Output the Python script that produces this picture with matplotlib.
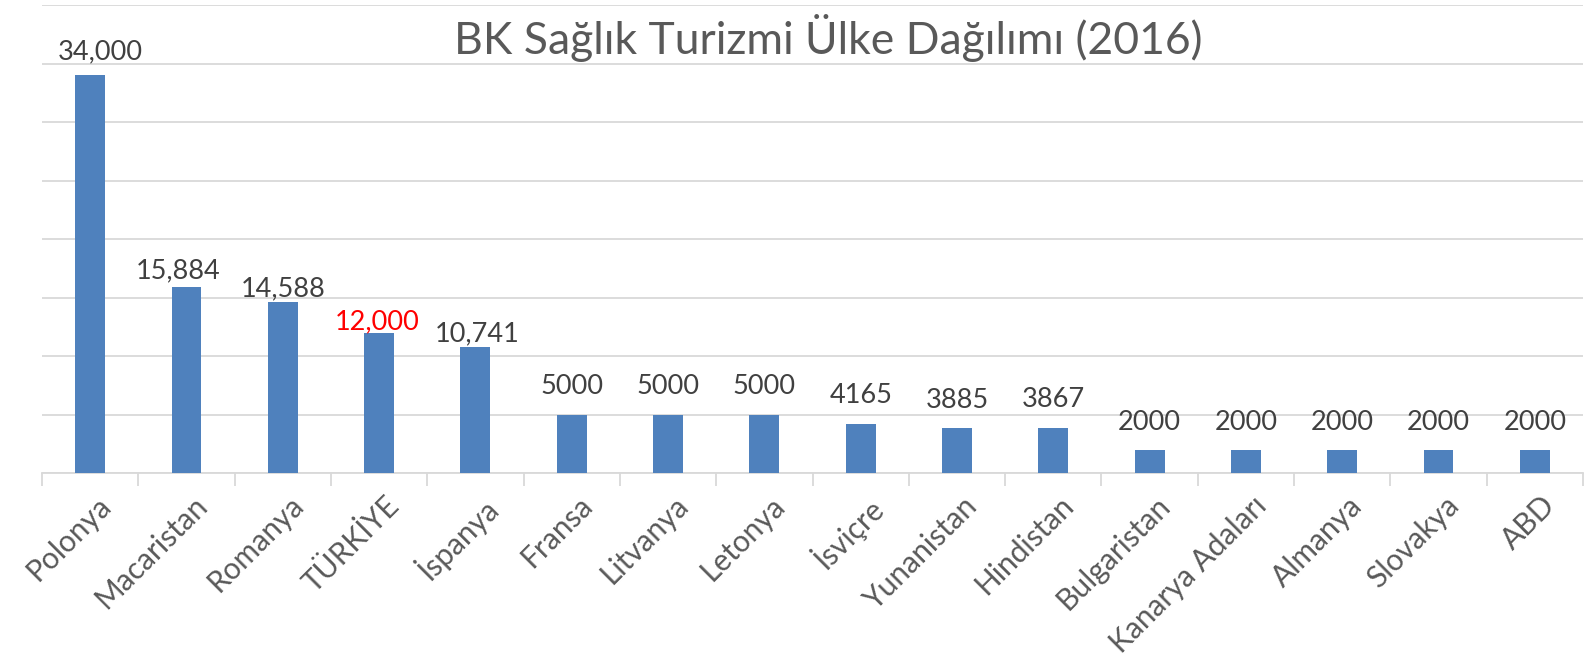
import matplotlib.pyplot as plt
from matplotlib.transforms import ScaledTranslation

plt.rcParams['font.family'] = ['Lato', 'DejaVu Sans']

ulkeler = ['Polonya', 'Macaristan', 'Romanya', 'TÜRKİYE', 'İspanya', 'Fransa',
           'Litvanya', 'Letonya', 'İsviçre', 'Yunanistan', 'Hindistan',
           'Bulgaristan', 'Kanarya Adaları', 'Almanya', 'Slovakya', 'ABD']
hasta = [34000, 15884, 14588, 12000, 10741, 5000, 5000, 5000, 4165, 3885,
         3867, 2000, 2000, 2000, 2000, 2000]
etiketler = ['34,000', '15,884', '14,588', '12,000', '10,741', '5000', '5000',
             '5000', '4165', '3885', '3867', '2000', '2000', '2000', '2000', '2000']
# etiketlerin elle kaydirilmis konumlari (piksel)
etiket_dx = [10, -8, 0, -2, 2, 0, 0, 0, 0, 0, 0, 0, 0, 0, 0, 0]
etiket_dy = [16, 9, 6, 3, 6, 20, 20, 20, 21, 20, 21, 20, 20, 20, 20, 20]

fig = plt.figure(figsize=(15.86, 6.61), dpi=100)
ax = fig.add_axes([42/1586, 1-473/661, (1583-42)/1586, (473-5)/661])

x = range(len(ulkeler))
bars = ax.bar(x, hasta, width=0.31, color='#4F81BD', zorder=3)

for i, b in enumerate(bars):
    renk = 'red' if ulkeler[i] == 'TÜRKİYE' else '#404040'
    ax.annotate(etiketler[i], (b.get_x() + b.get_width()/2, b.get_height()),
                xytext=(etiket_dx[i], etiket_dy[i]), textcoords='offset pixels',
                ha='center', va='baseline', fontsize=19.5, color=renk)

ax.set_xlim(-0.5, len(ulkeler) - 0.5)
ax.set_ylim(0, 40000)
ax.set_yticks(range(0, 40001, 5000))
ax.yaxis.grid(True, color='#D9D9D9', linewidth=1.3, zorder=0)
ax.tick_params(axis='y', left=False, labelleft=False)

ax.set_xticks(x)
ax.set_xticklabels(ulkeler, rotation=45, ha='right', rotation_mode='anchor',
                   fontsize=21.5, color='#595959')
ax.tick_params(axis='x', length=0, pad=13)
kaydir = ScaledTranslation(6/100, 0, fig.dpi_scale_trans)
for lab in ax.get_xticklabels():
    lab.set_transform(lab.get_transform() + kaydir)
ax.set_xticks([i - 0.5 for i in range(len(ulkeler) + 1)], minor=True)
ax.tick_params(axis='x', which='minor', length=9, color='#D9D9D9', width=1.3)

for s in ['top', 'right', 'left']:
    ax.spines[s].set_visible(False)
ax.spines['bottom'].set_color('#D9D9D9')
ax.spines['bottom'].set_linewidth(1.3)

fig.text(828/1586, 1-38/661, 'BK Sağlık Turizmi Ülke Dağılımı (2016)',
         ha='center', va='center', fontsize=32, color='#595959')

fig.savefig('out.png', dpi=100)
